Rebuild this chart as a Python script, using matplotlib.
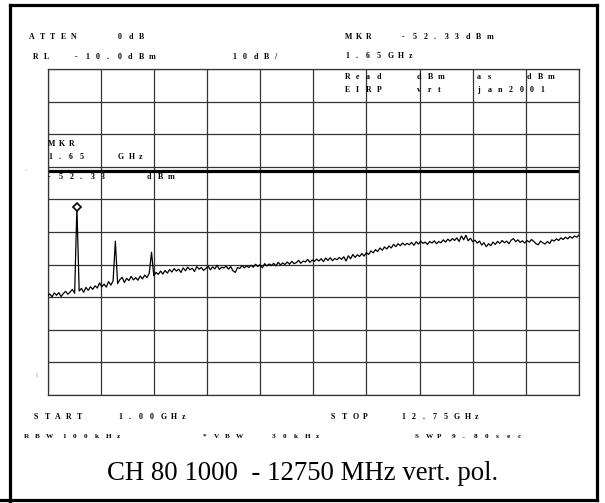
import matplotlib
matplotlib.use("Agg")
import matplotlib.pyplot as plt
from matplotlib.lines import Line2D
import numpy as np

# sweep settings
START_GHZ = 1.00
STOP_GHZ = 12.75
REF_LEVEL = -10.0
DB_PER_DIV = 10.0
MKR_GHZ = 1.65
MKR_DBM = -52.33
DISPLAY_LINE_DBM = -41.3

# trace samples, 0.05 GHz apart from START_GHZ to STOP_GHZ
trace_dbm = [
    -79.6, -79.0, -79.9, -78.7, -79.4, -78.6, -79.8, -78.9, -78.2, -79.1,
    -78.4, -77.6, -78.8, -52.33, -78.1, -77.3, -78.5, -77.0, -77.9, -76.8,
    -77.6, -76.5, -77.2, -75.6, -76.8, -76.0, -76.9, -75.2, -76.3, -75.0,
    -62.8, -75.8, -74.6, -73.9, -75.5, -74.2, -74.9, -73.6, -74.7, -74.0,
    -74.8, -73.5, -74.4, -73.2, -74.0, -72.6, -66.2, -73.4, -72.4, -73.0,
    -72.0, -72.9, -71.8, -72.6, -71.5, -72.3, -71.2, -72.0, -71.4, -72.4,
    -71.0, -71.9, -70.8, -71.6, -71.1, -72.1, -70.6, -71.4, -70.9, -71.8,
    -71.2, -70.4, -71.6, -70.7, -71.3, -70.2, -71.5, -70.8, -71.0, -70.5,
    -71.4, -70.6, -71.9, -72.4, -70.9, -71.2, -70.3, -71.0, -70.4, -70.9,
    -70.2, -70.8, -69.9, -70.6, -70.0, -71.0, -69.7, -70.4, -69.8, -70.3,
    -69.6, -70.4, -69.3, -70.1, -69.5, -70.0, -69.2, -69.9, -69.0, -69.7,
    -69.4, -68.7, -69.6, -68.9, -69.2, -68.4, -69.3, -68.6, -69.0, -68.3,
    -68.9, -68.2, -69.1, -68.0, -68.7, -67.9, -68.8, -68.1, -68.5, -67.8,
    -68.4, -67.6, -68.9, -67.3, -68.2, -66.9, -67.8, -67.0, -67.5, -66.6,
    -67.4, -66.3, -66.9, -65.8, -66.4, -65.4, -66.0, -64.9, -65.6, -64.6,
    -65.2, -64.3, -64.9, -63.8, -64.5, -63.6, -64.2, -63.4, -64.0, -63.5,
    -63.9, -63.2, -64.1, -63.0, -63.7, -62.8, -63.5, -63.1, -63.8, -62.9,
    -63.4, -62.7, -63.6, -62.9, -63.3, -62.4, -63.1, -62.2, -62.8, -62.0,
    -62.6, -61.8, -62.9, -61.2, -62.4, -61.0, -62.7, -61.9, -63.0, -62.5,
    -63.4, -62.8, -64.0, -63.3, -64.5, -63.6, -64.2, -63.1, -63.8, -62.9,
    -63.5, -62.6, -63.3, -62.8, -63.6, -62.5, -62.0, -63.0, -62.4, -63.2,
    -62.7, -63.4, -62.6, -63.1, -62.3, -62.9, -63.6, -63.9, -62.8, -63.3,
    -63.7, -62.9, -63.5, -62.4, -62.8, -62.1, -62.6, -61.8, -62.3, -61.6,
    -62.1, -61.4, -61.9, -61.2, -61.6, -60.9,
]

# annotation text: (x px, y px, string)
header_text = [
    (29, 37, "ATTEN"), (118, 37, "0dB"),
    (33, 57, "RL"), (75, 57, "-10.0dBm"), (232, 57, "10dB/"),
    (345, 37, "MKR"), (402, 37, "-52.33dBm"),
    (345, 56, "1.65GHz"),
    (345, 77, "Read"), (417, 77, "dBm"), (477, 77, "as"), (527, 77, "dBm"),
    (345, 90, "EIRP"), (417, 90, "vrt"), (477, 90, "jan2001"),
    (48, 144, "MKR"), (48, 157, "1.65"), (118, 157, "GHz"),
    (48, 177, "-52.33"), (147, 177, "dBm"),
]
footer_text = [
    (34, 417, "START"), (118, 417, "1.00GHz"),
    (331, 417, "STOP"), (401, 417, "12.75GHz"),
    (24, 436, "RBW"), (62, 436, "100kHz"), (203, 436, "*VBW"),
    (272, 436, "30kHz"), (415, 436, "SWP"), (452, 436, "9.80sec"),
]
caption = "CH 80 1000  - 12750 MHz vert. pol."

W, H = 605, 503
fig = plt.figure(figsize=(W / 100, H / 100), dpi=100)
fig.patch.set_facecolor("white")

# plotting area in pixels: left, top, right, bottom
gl, gt, gr, gb = 47.5, 69, 579, 395
ax = fig.add_axes([gl / W, 1 - gb / H, (gr - gl) / W, (gb - gt) / H])

freqs = np.linspace(START_GHZ, STOP_GHZ, len(trace_dbm))
ax.plot(freqs, trace_dbm, color="black", lw=0.9, zorder=3)
ax.plot([MKR_GHZ], [MKR_DBM], marker="D", ms=4.2, mfc="white",
        mec="black", mew=1.2, zorder=4)
ax.axhline(DISPLAY_LINE_DBM, color="black", lw=2.3, zorder=2)

ax.set_xlim(START_GHZ, STOP_GHZ)
ax.set_ylim(REF_LEVEL - 10 * DB_PER_DIV, REF_LEVEL)
ax.set_xticks(np.linspace(START_GHZ, STOP_GHZ, 11))
ax.set_yticks(np.arange(REF_LEVEL - 10 * DB_PER_DIV, REF_LEVEL + 1, DB_PER_DIV))
ax.grid(True, color="#333333", lw=0.9)
ax.tick_params(length=0, labelbottom=False, labelleft=False)
for sp in ax.spines.values():
    sp.set_color("#333333")
    sp.set_linewidth(0.9)


def spaced(x, y, s, pitch=10.6, size=5.7):
    # instrument-style lettering with wide fixed spacing
    for k, ch in enumerate(s):
        fig.text((x + k * pitch) / W, 1 - y / H, ch, ha="left", va="center",
                 fontsize=size, fontweight="bold", family="Liberation Serif",
                 color="black", zorder=5)


for x, y, s in header_text:
    spaced(x, y, s)
for x, y, s in footer_text:
    if y > 420:
        spaced(x, y, s, pitch=11.0, size=5.2)
    else:
        spaced(x, y, s)

fig.text(302.7 / W, 1 - 473 / H, caption, ha="center", va="center",
         fontsize=19.3, family="Liberation Serif", color="black")

# stray specks on the left margin
fig.text(25 / W, 1 - 171 / H, "'", fontsize=5, color="#aaaaaa",
         ha="center", va="center")
fig.text(37 / W, 1 - 376 / H, "i", fontsize=5, color="#999999",
         ha="center", va="center", rotation=15)

# outer frame
frame = dict(color="black", lw=2.3, solid_capstyle="projecting")
fig.add_artist(Line2D([10 / W, 597 / W], [1 - 5 / H, 1 - 5 / H], **frame))
fig.add_artist(Line2D([10 / W, 10 / W], [1 - 5 / H, 0], **frame))
fig.add_artist(Line2D([597 / W, 597 / W], [1 - 5 / H, 1 - 500 / H], **frame))
fig.add_artist(Line2D([0, 597 / W], [1 - 500 / H, 1 - 500 / H], **frame))

fig.savefig("out.png", dpi=100)
plt.close(fig)
